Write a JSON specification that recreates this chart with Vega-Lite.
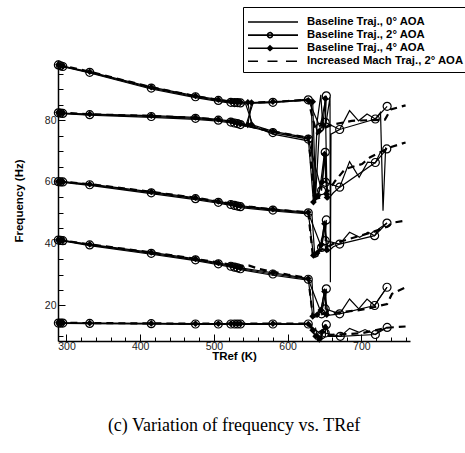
{
  "$schema": "https://vega.github.io/schema/vega-lite/v6.json",
  "width": 352,
  "height": 281,
  "autosize": "none",
  "padding": {"left": 58, "top": 60, "right": 55, "bottom": 112},
  "background": "white",
  "title": {"text": "(c) Variation of frequency vs. TRef", "orient": "bottom", "anchor": "middle", "font": "Liberation Serif", "fontSize": 18, "fontWeight": "normal", "color": "black", "offset": 55},
  "data": {"values": [
    {"s":"B2","c":"1","x":289,"y":14.3},{"s":"B2","c":"1","x":292,"y":14.3},{"s":"B2","c":"1","x":295,"y":14.3},{"s":"B2","c":"1","x":331.5,"y":14.2},{"s":"B2","c":"1","x":415,"y":14.1},{"s":"B2","c":"1","x":475,"y":14.0},{"s":"B2","c":"1","x":506,"y":14.0},{"s":"B2","c":"1","x":523,"y":14.0},{"s":"B2","c":"1","x":528,"y":14.0},{"s":"B2","c":"1","x":532,"y":14.0},{"s":"B2","c":"1","x":536,"y":14.0},{"s":"B2","c":"1","x":580,"y":14.0},{"s":"B2","c":"1","x":628,"y":14.0},{"s":"B2","c":"1","x":646,"y":10.5},{"s":"B2","c":"1","x":652.5,"y":13.8},{"s":"B2","c":"1","x":651,"y":11.1},{"s":"B2","c":"1","x":671.5,"y":10.0},{"s":"B2","c":"1","x":719,"y":10.6},{"s":"B2","c":"1","x":735,"y":12.9},
    {"s":"B2","c":"2","x":289,"y":41.2},{"s":"B2","c":"2","x":292,"y":41.1},{"s":"B2","c":"2","x":295,"y":41.0},{"s":"B2","c":"2","x":331.5,"y":39.6},{"s":"B2","c":"2","x":415,"y":36.9},{"s":"B2","c":"2","x":475,"y":34.8},{"s":"B2","c":"2","x":506,"y":33.5},{"s":"B2","c":"2","x":523,"y":32.7},{"s":"B2","c":"2","x":528,"y":32.4},{"s":"B2","c":"2","x":532,"y":32.2},{"s":"B2","c":"2","x":536,"y":31.9},{"s":"B2","c":"2","x":580,"y":30.2},{"s":"B2","c":"2","x":628,"y":28.5},{"s":"B2","c":"2","x":646,"y":17.3},{"s":"B2","c":"2","x":652.5,"y":25.4},{"s":"B2","c":"2","x":651,"y":18.9},{"s":"B2","c":"2","x":670.6,"y":17.3},{"s":"B2","c":"2","x":718,"y":20.0},{"s":"B2","c":"2","x":734.8,"y":25.9},
    {"s":"B2","c":"3","x":289,"y":60.1},{"s":"B2","c":"3","x":292,"y":60.0},{"s":"B2","c":"3","x":295,"y":60.0},{"s":"B2","c":"3","x":331.5,"y":59.1},{"s":"B2","c":"3","x":415,"y":56.5},{"s":"B2","c":"3","x":475,"y":54.6},{"s":"B2","c":"3","x":506,"y":53.4},{"s":"B2","c":"3","x":523,"y":52.7},{"s":"B2","c":"3","x":528,"y":52.4},{"s":"B2","c":"3","x":532,"y":52.2},{"s":"B2","c":"3","x":536,"y":52.0},{"s":"B2","c":"3","x":580,"y":50.9},{"s":"B2","c":"3","x":628,"y":50.0},{"s":"B2","c":"3","x":646,"y":38.8},{"s":"B2","c":"3","x":652.5,"y":47.7},{"s":"B2","c":"3","x":651,"y":41.0},{"s":"B2","c":"3","x":670.6,"y":39.9},{"s":"B2","c":"3","x":718,"y":42.6},{"s":"B2","c":"3","x":734.8,"y":46.7},
    {"s":"B2","c":"4","x":289,"y":82.4},{"s":"B2","c":"4","x":292,"y":82.3},{"s":"B2","c":"4","x":295,"y":82.2},{"s":"B2","c":"4","x":331.5,"y":81.8},{"s":"B2","c":"4","x":415,"y":81.2},{"s":"B2","c":"4","x":475,"y":80.6},{"s":"B2","c":"4","x":506,"y":80.0},{"s":"B2","c":"4","x":523,"y":79.4},{"s":"B2","c":"4","x":528,"y":79.1},{"s":"B2","c":"4","x":532,"y":78.9},{"s":"B2","c":"4","x":536,"y":78.6},{"s":"B2","c":"4","x":580,"y":76.0},{"s":"B2","c":"4","x":628,"y":73.9},{"s":"B2","c":"4","x":646,"y":57.2},{"s":"B2","c":"4","x":651,"y":69.6},{"s":"B2","c":"4","x":651.5,"y":59.9},{"s":"B2","c":"4","x":670.6,"y":58.3},{"s":"B2","c":"4","x":719,"y":66.3},{"s":"B2","c":"4","x":734.5,"y":70.7},
    {"s":"B2","c":"5","x":289,"y":97.9},{"s":"B2","c":"5","x":292,"y":97.6},{"s":"B2","c":"5","x":295,"y":97.4},{"s":"B2","c":"5","x":331.5,"y":95.5},{"s":"B2","c":"5","x":415,"y":90.4},{"s":"B2","c":"5","x":475,"y":87.6},{"s":"B2","c":"5","x":506,"y":86.4},{"s":"B2","c":"5","x":523,"y":85.8},{"s":"B2","c":"5","x":528,"y":85.7},{"s":"B2","c":"5","x":532,"y":85.7},{"s":"B2","c":"5","x":536,"y":85.6},{"s":"B2","c":"5","x":580,"y":85.8},{"s":"B2","c":"5","x":628,"y":86.6},{"s":"B2","c":"5","x":644,"y":77.7},{"s":"B2","c":"5","x":652.5,"y":87.9},{"s":"B2","c":"5","x":651,"y":79.3},{"s":"B2","c":"5","x":670.6,"y":77.0},{"s":"B2","c":"5","x":719,"y":80.4},{"s":"B2","c":"5","x":735,"y":84.5},

    {"s":"B0","c":"1","x":289,"y":14.2},{"s":"B0","c":"1","x":292,"y":14.2},{"s":"B0","c":"1","x":295,"y":14.2},{"s":"B0","c":"1","x":331.5,"y":14.1},{"s":"B0","c":"1","x":415,"y":14.0},{"s":"B0","c":"1","x":475,"y":13.9},{"s":"B0","c":"1","x":506,"y":13.9},{"s":"B0","c":"1","x":523,"y":13.9},{"s":"B0","c":"1","x":528,"y":13.9},{"s":"B0","c":"1","x":532,"y":13.9},{"s":"B0","c":"1","x":536,"y":13.9},{"s":"B0","c":"1","x":580,"y":13.9},{"s":"B0","c":"1","x":628,"y":13.9},{"s":"B0","c":"1","x":632,"y":13.8},{"s":"B0","c":"1","x":635,"y":11.0},{"s":"B0","c":"1","x":638,"y":12.5},{"s":"B0","c":"1","x":641,"y":9.0},{"s":"B0","c":"1","x":644.4,"y":8.6},{"s":"B0","c":"1","x":648,"y":12.0},{"s":"B0","c":"1","x":652,"y":13.5},{"s":"B0","c":"1","x":656,"y":10.0},{"s":"B0","c":"1","x":671.5,"y":10.0},{"s":"B0","c":"1","x":684,"y":12.6},{"s":"B0","c":"1","x":697,"y":11.3},{"s":"B0","c":"1","x":705,"y":12.2},{"s":"B0","c":"1","x":719,"y":10.6},{"s":"B0","c":"1","x":726,"y":12.0},{"s":"B0","c":"1","x":735,"y":12.9},
    {"s":"B0","c":"2","x":289,"y":41.1},{"s":"B0","c":"2","x":292,"y":41.0},{"s":"B0","c":"2","x":295,"y":40.9},{"s":"B0","c":"2","x":331.5,"y":39.4},{"s":"B0","c":"2","x":415,"y":36.6},{"s":"B0","c":"2","x":475,"y":34.5},{"s":"B0","c":"2","x":506,"y":33.2},{"s":"B0","c":"2","x":523,"y":32.4},{"s":"B0","c":"2","x":528,"y":32.1},{"s":"B0","c":"2","x":532,"y":31.9},{"s":"B0","c":"2","x":536,"y":31.6},{"s":"B0","c":"2","x":580,"y":29.8},{"s":"B0","c":"2","x":628,"y":28.2},{"s":"B0","c":"2","x":633,"y":27.9},{"s":"B0","c":"2","x":636,"y":16.2},{"s":"B0","c":"2","x":641,"y":16.5},{"s":"B0","c":"2","x":646,"y":19.0},{"s":"B0","c":"2","x":650,"y":25.0},{"s":"B0","c":"2","x":655,"y":16.8},{"s":"B0","c":"2","x":670.6,"y":17.3},{"s":"B0","c":"2","x":684,"y":22.1},{"s":"B0","c":"2","x":696.5,"y":18.9},{"s":"B0","c":"2","x":707.7,"y":22.1},{"s":"B0","c":"2","x":718,"y":20.0},{"s":"B0","c":"2","x":723.5,"y":22.1},{"s":"B0","c":"2","x":734.8,"y":25.9},
    {"s":"B0","c":"3","x":289,"y":60.0},{"s":"B0","c":"3","x":292,"y":59.9},{"s":"B0","c":"3","x":295,"y":59.9},{"s":"B0","c":"3","x":331.5,"y":58.9},{"s":"B0","c":"3","x":415,"y":56.2},{"s":"B0","c":"3","x":475,"y":54.3},{"s":"B0","c":"3","x":506,"y":53.1},{"s":"B0","c":"3","x":523,"y":52.4},{"s":"B0","c":"3","x":528,"y":52.1},{"s":"B0","c":"3","x":532,"y":51.9},{"s":"B0","c":"3","x":536,"y":51.7},{"s":"B0","c":"3","x":580,"y":50.6},{"s":"B0","c":"3","x":628,"y":49.7},{"s":"B0","c":"3","x":633,"y":49.4},{"s":"B0","c":"3","x":637,"y":35.6},{"s":"B0","c":"3","x":641,"y":36.0},{"s":"B0","c":"3","x":646,"y":40.0},{"s":"B0","c":"3","x":650,"y":47.0},{"s":"B0","c":"3","x":655,"y":37.5},{"s":"B0","c":"3","x":662,"y":39.0},{"s":"B0","c":"3","x":670.6,"y":39.9},{"s":"B0","c":"3","x":684,"y":43.7},{"s":"B0","c":"3","x":697.7,"y":42.1},{"s":"B0","c":"3","x":709,"y":43.7},{"s":"B0","c":"3","x":718,"y":42.6},{"s":"B0","c":"3","x":723.5,"y":44.8},{"s":"B0","c":"3","x":734.8,"y":46.7},
    {"s":"B0","c":"4","x":289,"y":82.3},{"s":"B0","c":"4","x":292,"y":82.2},{"s":"B0","c":"4","x":295,"y":82.1},{"s":"B0","c":"4","x":331.5,"y":81.6},{"s":"B0","c":"4","x":415,"y":80.9},{"s":"B0","c":"4","x":475,"y":80.3},{"s":"B0","c":"4","x":506,"y":79.7},{"s":"B0","c":"4","x":523,"y":79.1},{"s":"B0","c":"4","x":528,"y":78.8},{"s":"B0","c":"4","x":532,"y":78.6},{"s":"B0","c":"4","x":536,"y":78.3},{"s":"B0","c":"4","x":543,"y":78.0},{"s":"B0","c":"4","x":553,"y":85.5},{"s":"B0","c":"4","x":580,"y":85.7},{"s":"B0","c":"4","x":628,"y":86.8},{"s":"B0","c":"4","x":632,"y":86.5},{"s":"B0","c":"4","x":636,"y":54.0},{"s":"B0","c":"4","x":640,"y":79.5},{"s":"B0","c":"4","x":645,"y":88.2},{"s":"B0","c":"4","x":648,"y":77.0},{"s":"B0","c":"4","x":652,"y":79.0},{"s":"B0","c":"4","x":657.5,"y":87.4},{"s":"B0","c":"4","x":658,"y":27.5},{"s":"B0","c":"4","x":658.8,"y":75.5},{"s":"B0","c":"4","x":670.6,"y":77.0},{"s":"B0","c":"4","x":684,"y":83.1},{"s":"B0","c":"4","x":696.3,"y":79.8},{"s":"B0","c":"4","x":707.7,"y":82.0},{"s":"B0","c":"4","x":719,"y":80.4},{"s":"B0","c":"4","x":726,"y":82.5},{"s":"B0","c":"4","x":729.4,"y":50.7},{"s":"B0","c":"4","x":733,"y":71.2},
    {"s":"B0","c":"5","x":289,"y":97.8},{"s":"B0","c":"5","x":292,"y":97.5},{"s":"B0","c":"5","x":295,"y":97.3},{"s":"B0","c":"5","x":331.5,"y":95.3},{"s":"B0","c":"5","x":415,"y":90.1},{"s":"B0","c":"5","x":475,"y":87.3},{"s":"B0","c":"5","x":506,"y":86.1},{"s":"B0","c":"5","x":523,"y":85.5},{"s":"B0","c":"5","x":528,"y":85.4},{"s":"B0","c":"5","x":532,"y":85.4},{"s":"B0","c":"5","x":536,"y":85.3},{"s":"B0","c":"5","x":543,"y":85.3},{"s":"B0","c":"5","x":553,"y":78.2},{"s":"B0","c":"5","x":580,"y":75.5},{"s":"B0","c":"5","x":628,"y":73.3},{"s":"B0","c":"5","x":632,"y":73.0},{"s":"B0","c":"5","x":636,"y":53.5},{"s":"B0","c":"5","x":641,"y":55.0},{"s":"B0","c":"5","x":645,"y":60.0},{"s":"B0","c":"5","x":650,"y":69.5},{"s":"B0","c":"5","x":655,"y":54.5},{"s":"B0","c":"5","x":662,"y":56.5},{"s":"B0","c":"5","x":670.6,"y":58.3},{"s":"B0","c":"5","x":684,"y":66.6},{"s":"B0","c":"5","x":697,"y":61.5},{"s":"B0","c":"5","x":708.5,"y":66.4},{"s":"B0","c":"5","x":719,"y":66.2},{"s":"B0","c":"5","x":725.8,"y":69.6},{"s":"B0","c":"5","x":735,"y":70.9},

    {"s":"B4","c":"1","x":289,"y":14.4},{"s":"B4","c":"1","x":292,"y":14.4},{"s":"B4","c":"1","x":295,"y":14.4},{"s":"B4","c":"1","x":331.5,"y":14.3},{"s":"B4","c":"1","x":415,"y":14.2},{"s":"B4","c":"1","x":475,"y":14.1},{"s":"B4","c":"1","x":506,"y":14.1},{"s":"B4","c":"1","x":523,"y":14.1},{"s":"B4","c":"1","x":528,"y":14.1},{"s":"B4","c":"1","x":532,"y":14.1},{"s":"B4","c":"1","x":536,"y":14.1},{"s":"B4","c":"1","x":580,"y":14.1},{"s":"B4","c":"1","x":628,"y":14.0},{"s":"B4","c":"1","x":634,"y":12.0},{"s":"B4","c":"1","x":638,"y":10.0},{"s":"B4","c":"1","x":643,"y":9.0},{"s":"B4","c":"1","x":647,"y":11.5},{"s":"B4","c":"1","x":651,"y":13.0},
    {"s":"B4","c":"2","x":289,"y":41.3},{"s":"B4","c":"2","x":292,"y":41.2},{"s":"B4","c":"2","x":295,"y":41.1},{"s":"B4","c":"2","x":331.5,"y":39.8},{"s":"B4","c":"2","x":415,"y":37.2},{"s":"B4","c":"2","x":475,"y":35.1},{"s":"B4","c":"2","x":506,"y":33.8},{"s":"B4","c":"2","x":523,"y":33.0},{"s":"B4","c":"2","x":528,"y":32.7},{"s":"B4","c":"2","x":532,"y":32.5},{"s":"B4","c":"2","x":536,"y":32.2},{"s":"B4","c":"2","x":580,"y":30.6},{"s":"B4","c":"2","x":628,"y":28.7},{"s":"B4","c":"2","x":634,"y":16.5},{"s":"B4","c":"2","x":640,"y":17.0},{"s":"B4","c":"2","x":645,"y":18.5},{"s":"B4","c":"2","x":650,"y":24.5},{"s":"B4","c":"2","x":653,"y":17.0},
    {"s":"B4","c":"3","x":289,"y":60.2},{"s":"B4","c":"3","x":292,"y":60.1},{"s":"B4","c":"3","x":295,"y":60.1},{"s":"B4","c":"3","x":331.5,"y":59.3},{"s":"B4","c":"3","x":415,"y":56.8},{"s":"B4","c":"3","x":475,"y":54.9},{"s":"B4","c":"3","x":506,"y":53.7},{"s":"B4","c":"3","x":523,"y":53.0},{"s":"B4","c":"3","x":528,"y":52.7},{"s":"B4","c":"3","x":532,"y":52.5},{"s":"B4","c":"3","x":536,"y":52.3},{"s":"B4","c":"3","x":580,"y":51.2},{"s":"B4","c":"3","x":628,"y":50.2},{"s":"B4","c":"3","x":635,"y":36.2},{"s":"B4","c":"3","x":640,"y":37.0},{"s":"B4","c":"3","x":645,"y":39.5},{"s":"B4","c":"3","x":650,"y":46.5},{"s":"B4","c":"3","x":653,"y":38.0},
    {"s":"B4","c":"4","x":289,"y":82.5},{"s":"B4","c":"4","x":292,"y":82.4},{"s":"B4","c":"4","x":295,"y":82.3},{"s":"B4","c":"4","x":331.5,"y":82.0},{"s":"B4","c":"4","x":415,"y":81.5},{"s":"B4","c":"4","x":475,"y":80.9},{"s":"B4","c":"4","x":506,"y":80.3},{"s":"B4","c":"4","x":523,"y":79.7},{"s":"B4","c":"4","x":528,"y":79.4},{"s":"B4","c":"4","x":532,"y":79.2},{"s":"B4","c":"4","x":536,"y":78.9},{"s":"B4","c":"4","x":546,"y":78.5},{"s":"B4","c":"4","x":551,"y":85.7},{"s":"B4","c":"4","x":580,"y":86.0},{"s":"B4","c":"4","x":628,"y":86.4},{"s":"B4","c":"4","x":634,"y":86.0},{"s":"B4","c":"4","x":638,"y":55.5},{"s":"B4","c":"4","x":643,"y":76.5},{"s":"B4","c":"4","x":648,"y":78.5},{"s":"B4","c":"4","x":651,"y":87.0},{"s":"B4","c":"4","x":653.5,"y":55.0},
    {"s":"B4","c":"5","x":289,"y":98.0},{"s":"B4","c":"5","x":292,"y":97.7},{"s":"B4","c":"5","x":295,"y":97.5},{"s":"B4","c":"5","x":331.5,"y":95.7},{"s":"B4","c":"5","x":415,"y":90.7},{"s":"B4","c":"5","x":475,"y":87.9},{"s":"B4","c":"5","x":506,"y":86.7},{"s":"B4","c":"5","x":523,"y":86.1},{"s":"B4","c":"5","x":528,"y":86.0},{"s":"B4","c":"5","x":532,"y":86.0},{"s":"B4","c":"5","x":536,"y":85.9},{"s":"B4","c":"5","x":546,"y":85.8},{"s":"B4","c":"5","x":551,"y":78.6},{"s":"B4","c":"5","x":580,"y":76.4},{"s":"B4","c":"5","x":628,"y":74.3},{"s":"B4","c":"5","x":635,"y":53.5},{"s":"B4","c":"5","x":641,"y":55.5},{"s":"B4","c":"5","x":647,"y":60.0},{"s":"B4","c":"5","x":650,"y":69.0},{"s":"B4","c":"5","x":653,"y":56.0},

    {"s":"IM","c":"1","x":289,"y":14.4},{"s":"IM","c":"1","x":331.5,"y":14.3},{"s":"IM","c":"1","x":415,"y":14.2},{"s":"IM","c":"1","x":475,"y":14.1},{"s":"IM","c":"1","x":506,"y":14.1},{"s":"IM","c":"1","x":523,"y":14.1},{"s":"IM","c":"1","x":536,"y":14.1},{"s":"IM","c":"1","x":548,"y":14.1},{"s":"IM","c":"1","x":562,"y":14.1},{"s":"IM","c":"1","x":580,"y":14.1},{"s":"IM","c":"1","x":600,"y":14.1},{"s":"IM","c":"1","x":628,"y":14.1},{"s":"IM","c":"1","x":636,"y":11.5},{"s":"IM","c":"1","x":645,"y":9.5},{"s":"IM","c":"1","x":660,"y":10.5},{"s":"IM","c":"1","x":700,"y":11.0},{"s":"IM","c":"1","x":735,"y":12.8},{"s":"IM","c":"1","x":760,"y":13.2},
    {"s":"IM","c":"2","x":289,"y":41.3},{"s":"IM","c":"2","x":331.5,"y":39.8},{"s":"IM","c":"2","x":415,"y":37.2},{"s":"IM","c":"2","x":475,"y":35.1},{"s":"IM","c":"2","x":506,"y":33.9},{"s":"IM","c":"2","x":523,"y":33.2},{"s":"IM","c":"2","x":536,"y":32.8},{"s":"IM","c":"2","x":548,"y":32.9},{"s":"IM","c":"2","x":562,"y":31.8},{"s":"IM","c":"2","x":580,"y":30.9},{"s":"IM","c":"2","x":600,"y":30.0},{"s":"IM","c":"2","x":628,"y":28.9},{"s":"IM","c":"2","x":634,"y":16.8},{"s":"IM","c":"2","x":645,"y":17.2},{"s":"IM","c":"2","x":660,"y":17.5},{"s":"IM","c":"2","x":697,"y":18.5},{"s":"IM","c":"2","x":718,"y":19.5},{"s":"IM","c":"2","x":735,"y":20.5},{"s":"IM","c":"2","x":741.6,"y":23.8},{"s":"IM","c":"2","x":760,"y":25.9},
    {"s":"IM","c":"3","x":289,"y":60.2},{"s":"IM","c":"3","x":331.5,"y":59.3},{"s":"IM","c":"3","x":415,"y":56.8},{"s":"IM","c":"3","x":475,"y":54.9},{"s":"IM","c":"3","x":506,"y":53.7},{"s":"IM","c":"3","x":523,"y":53.0},{"s":"IM","c":"3","x":536,"y":52.5},{"s":"IM","c":"3","x":548,"y":52.0},{"s":"IM","c":"3","x":562,"y":51.6},{"s":"IM","c":"3","x":580,"y":51.1},{"s":"IM","c":"3","x":600,"y":50.7},{"s":"IM","c":"3","x":628,"y":50.2},{"s":"IM","c":"3","x":634,"y":36.5},{"s":"IM","c":"3","x":640,"y":37.5},{"s":"IM","c":"3","x":650,"y":38.5},{"s":"IM","c":"3","x":662,"y":40.0},{"s":"IM","c":"3","x":697,"y":42.5},{"s":"IM","c":"3","x":712,"y":43.5},{"s":"IM","c":"3","x":735,"y":45.5},{"s":"IM","c":"3","x":742,"y":46.8},{"s":"IM","c":"3","x":760,"y":47.5},
    {"s":"IM","c":"4","x":289,"y":82.6},{"s":"IM","c":"4","x":331.5,"y":81.9},{"s":"IM","c":"4","x":415,"y":81.4},{"s":"IM","c":"4","x":475,"y":80.8},{"s":"IM","c":"4","x":506,"y":80.2},{"s":"IM","c":"4","x":523,"y":79.6},{"s":"IM","c":"4","x":536,"y":79.0},{"s":"IM","c":"4","x":548,"y":78.0},{"s":"IM","c":"4","x":562,"y":77.2},{"s":"IM","c":"4","x":580,"y":76.4},{"s":"IM","c":"4","x":600,"y":75.5},{"s":"IM","c":"4","x":628,"y":74.3},{"s":"IM","c":"4","x":637,"y":54.5},{"s":"IM","c":"4","x":645,"y":55.0},{"s":"IM","c":"4","x":655,"y":57.0},{"s":"IM","c":"4","x":664.7,"y":60.4},{"s":"IM","c":"4","x":678,"y":64.2},{"s":"IM","c":"4","x":700.9,"y":65.8},{"s":"IM","c":"4","x":712,"y":68.0},{"s":"IM","c":"4","x":739,"y":71.2},{"s":"IM","c":"4","x":760,"y":72.8},
    {"s":"IM","c":"5","x":289,"y":98.0},{"s":"IM","c":"5","x":331.5,"y":95.7},{"s":"IM","c":"5","x":415,"y":90.7},{"s":"IM","c":"5","x":475,"y":87.8},{"s":"IM","c":"5","x":506,"y":86.6},{"s":"IM","c":"5","x":523,"y":86.0},{"s":"IM","c":"5","x":536,"y":85.8},{"s":"IM","c":"5","x":548,"y":85.8},{"s":"IM","c":"5","x":562,"y":85.8},{"s":"IM","c":"5","x":580,"y":85.9},{"s":"IM","c":"5","x":600,"y":86.2},{"s":"IM","c":"5","x":628,"y":86.7},{"s":"IM","c":"5","x":634,"y":80.5},{"s":"IM","c":"5","x":640,"y":75.5},{"s":"IM","c":"5","x":650,"y":77.5},{"s":"IM","c":"5","x":660,"y":78.5},{"s":"IM","c":"5","x":687,"y":79.8},{"s":"IM","c":"5","x":732,"y":80.2},{"s":"IM","c":"5","x":740,"y":83.5},{"s":"IM","c":"5","x":760,"y":84.8}
  ]},
  "encoding": {
    "x": {"field": "x", "type": "quantitative", "scale": {"domain": [288.5, 766], "nice": false, "zero": false},
      "axis": {"title": "TRef (K)", "values": [300,320,340,360,380,400,420,440,460,480,500,520,540,560,580,600,620,640,660,680,700,720,740,760],
        "labelExpr": "datum.value % 100 === 0 ? datum.label : ''",
        "tickSize": {"condition": {"test": "datum.value % 100 === 0", "value": -7}, "value": -4},
        "labelPadding": 7, "titlePadding": -1}},
    "y": {"field": "y", "type": "quantitative", "scale": {"domain": [8.5, 99.5], "nice": false, "zero": false},
      "axis": {"title": "Frequency (Hz)", "values": [10,15,20,25,30,35,40,45,50,55,60,65,70,75,80,85,90,95],
        "labelExpr": "datum.value % 20 === 0 ? datum.label : ''",
        "tickSize": {"condition": {"test": "datum.value % 20 === 0", "value": -7}, "value": -5},
        "labelPadding": 9, "titlePadding": 20}},
    "color": {"field": "s", "type": "nominal",
      "scale": {"domain": ["B0","B2","B4","IM"], "range": ["black","black","black","black"]},
      "legend": {"title": ".", "titleFontSize": 5, "titleColor": "white", "titlePadding": 0, "orient": "none", "legendX": 185, "legendY": -53,
        "labelExpr": "datum.value === 'B0' ? 'Baseline Traj., 0° AOA' : datum.value === 'B2' ? 'Baseline Traj., 2° AOA' : datum.value === 'B4' ? 'Baseline Traj., 4° AOA' : 'Increased Mach Traj., 2° AOA'",
        "labelFont": "Liberation Sans", "labelFontWeight": "bold", "labelFontSize": 11.3, "labelColor": "black", "labelLimit": 300, "labelOffset": 8,
        "symbolSize": 2500, "symbolStrokeWidth": 1.6, "clipHeight": 12, "rowPadding": 1.1,
        "padding": 4, "strokeColor": "black", "fillColor": "white",
        "encode": {"symbols": {"update": {
          "shape": {"signal": "datum.value === 'B0' ? 'M-1,0H1' : datum.value === 'B2' ? 'M-1,0H1M-0.22,0A0.1,0.1 0 1,0 -0.02,0A0.1,0.1 0 1,0 -0.22,0' : datum.value === 'B4' ? 'M-1,0H1M-0.22,0L-0.12,-0.09L-0.02,0L-0.12,0.09Z' : 'M-1,0H-0.6M-0.22,0H0.18M0.52,0H0.96'"},
          "fillOpacity": {"signal": "datum.value === 'B4' ? 1 : 0"},
          "stroke": {"value": "black"},
          "strokeDash": {"value": [1, 0]},
          "opacity": {"value": 1}
        }}}
      }},
    "detail": {"field": "c", "type": "nominal"}
  },
  "layer": [
    {"transform": [{"filter": "datum.s !== 'IM'"}], "mark": {"type": "line", "strokeWidth": 1.2}, "encoding": {"order": {"value": null}}},
    {"transform": [{"filter": "datum.s === 'IM'"}], "mark": {"type": "line", "strokeWidth": 2.2, "strokeDash": [7, 5]}, "encoding": {"order": {"value": null}}},
    {"transform": [{"filter": "datum.s === 'B2'"}], "mark": {"type": "point", "shape": "circle", "filled": false, "size": 64, "strokeWidth": 1.2, "opacity": 1}},
    {"transform": [{"filter": "datum.s === 'B4'"}], "mark": {"type": "point", "shape": "diamond", "filled": true, "size": 45, "opacity": 1}}
  ],
  "config": {
    "view": {"stroke": null},
    "axis": {"grid": false, "domainColor": "black", "domainWidth": 1.5, "tickColor": "black", "tickWidth": 1,
      "labelFont": "Liberation Sans", "labelFontSize": 10.5, "labelColor": "#222",
      "titleFont": "Liberation Sans", "titleFontSize": 11.5, "titleFontWeight": "bold", "titleColor": "black"}
  }
}
